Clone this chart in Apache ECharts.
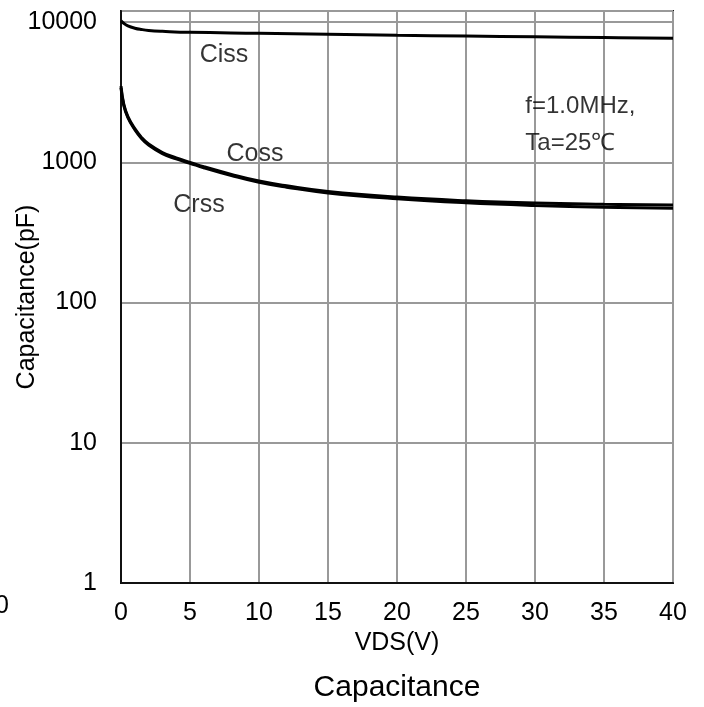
<!DOCTYPE html>
<html>
<head>
<meta charset="utf-8">
<script src="https://cdn.jsdelivr.net/npm/echarts@6/dist/echarts.min.js"></script>
<style>html,body{margin:0;padding:0;background:#fff}#c{width:704px;height:707px}</style>
</head>
<body>
<div id="c"></div>
<script>
const xTicks = [0, 5, 10, 15, 20, 25, 30, 35, 40];
const yTicks = [1, 10, 100, 1000, 10000];
const vCiss = [0, 0.2, 0.5, 1, 1.5, 2, 3, 5, 10, 15, 20, 25, 30, 35, 40];
const ciss = [10200, 9800, 9400, 9050, 8850, 8720, 8600, 8450, 8320, 8180, 8050, 7950, 7850, 7760, 7680];
const vOut = [0, 0.2, 0.5, 1, 1.5, 2, 3, 4, 5, 6, 8, 10, 12, 15, 20, 25, 30, 35, 40];
const coss = [3500, 2600, 2120, 1740, 1500, 1350, 1175, 1075, 1000, 930, 820, 735, 680, 620, 565, 532, 512, 502, 496];
const crss = [3400, 2550, 2080, 1710, 1475, 1330, 1155, 1058, 985, 915, 805, 720, 665, 605, 550, 515, 493, 479, 470];
const curveLabels = [
  {name: 'Ciss', v: 7.46, c: 5840},
  {name: 'Coss', v: 9.71, c: 1138},
  {name: 'Crss', v: 5.65, c: 492}
];
const noteLines = [
  {text: 'f=1.0MHz,', v: 29.3, c: 2506},
  {text: 'Ta=25\u2103', v: 29.3, c: 1365}
];
const FONT = '"Liberation Sans", Arial, sans-serif';

const zip = (xs, ys) => xs.map((x, i) => [x, ys[i]]);
const lineSeries = (name, data) => ({
  name, type: 'line', data, showSymbol: false, smooth: 0.45,
  lineStyle: {color: '#000', width: 3}, silent: true, z: 3
});

const chart = echarts.init(document.getElementById('c'), null, {renderer: 'canvas'});
chart.setOption({
  animation: false,
  backgroundColor: '#fff',
  grid: {left: 121, right: 31, top: 11, bottom: 124, containLabel: false, outerBoundsMode: 'none',
         show: true, borderColor: '#111', borderWidth: 2, backgroundColor: 'transparent'},
  xAxis: {
    type: 'value', min: 0, max: 40, interval: 5,
    name: 'VDS(V)', nameLocation: 'middle', nameGap: 46,
    nameTextStyle: {fontFamily: FONT, fontSize: 25, color: '#000'},
    axisLine: {show: true, lineStyle: {color: '#111', width: 2}},
    axisTick: {show: false},
    axisLabel: {fontFamily: FONT, fontSize: 25, color: '#000', margin: 18},
    splitLine: {show: true, lineStyle: {color: '#999', width: 2}}
  },
  yAxis: {
    type: 'log', logBase: 10, min: 1, max: 12000,
    name: 'Capacitance(pF)', nameLocation: 'middle', nameGap: 81, nameMoveOverlap: false,
    nameTextStyle: {fontFamily: FONT, fontSize: 25, color: '#000'},
    axisLine: {show: true, lineStyle: {color: '#111', width: 2}},
    axisTick: {show: false},
    axisLabel: {
      fontFamily: FONT, fontSize: 25, color: '#000', margin: 24,
      formatter: v => (yTicks.some(t => Math.abs(t - v) / t < 1e-6) ? String(Math.round(v)) : '')
    },
    splitLine: {show: true, lineStyle: {color: '#999', width: 2}}
  },
  series: [
    lineSeries('Ciss', zip(vCiss, ciss)),
    lineSeries('Coss', zip(vOut, coss)),
    lineSeries('Crss', zip(vOut, crss)),
    {
      type: 'scatter', symbolSize: 0, silent: true, z: 5,
      data: curveLabels.map(d => ({value: [d.v, d.c], name: d.name})),
      label: {show: true, position: 'inside', formatter: p => p.name, fontFamily: FONT, fontSize: 25, color: '#000'}
    },
    {
      type: 'scatter', symbolSize: 0, silent: true, z: 5,
      data: noteLines.map(d => ({value: [d.v, d.c], name: d.text})),
      label: {show: true, position: 'right', distance: 0, formatter: p => p.name, fontFamily: FONT, fontSize: 24, color: '#000'}
    }
  ],
  graphic: [
    {type: 'text', x: 397, y: 688, style: {text: 'Capacitance', font: '30px ' + FONT, fill: '#000', align: 'center', verticalAlign: 'middle'}},
    {type: 'text', x: -5, y: 606, style: {text: '0', font: '25px ' + FONT, fill: '#000', align: 'left', verticalAlign: 'middle'}}
  ]
});
</script>
</body>
</html>
